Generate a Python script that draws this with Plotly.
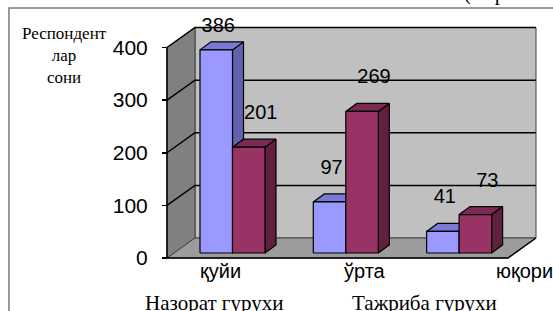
import plotly.graph_objects as go

# ---------------- data ----------------
categories = ["қуйи", "ўрта", "юқори"]
control_group = [386, 97, 41]          # Назорат гурухи
experimental_group = [201, 269, 73]    # Тажриба гурухи
series_names = ["Назорат гурухи", "Тажриба гурухи"]
y_tick_values = [0, 100, 200, 300, 400]
y_title = "Респондент<br>лар<br>сони"

# ---------------- geometry (pixel space -> axis units) ----------------
W, H = 553, 311
CAT0_PX, CAT_STEP_PX = 232.5, 113.3
ZERO_PX, PX_PER_UNIT = 258, 0.52625


def ux(px):
    return px / CAT_STEP_PX


def uy(px):
    return px / PX_PER_UNIT


def px_to_x(px):
    return (px - CAT0_PX) / CAT_STEP_PX


def px_to_y(py):
    return (ZERO_PX - py) / PX_PER_UNIT


x_range = [px_to_x(0), px_to_x(W)]
y_range = [px_to_y(H), px_to_y(0)]

y_max = y_tick_values[-1]
wall_dx, wall_dy = ux(28), uy(20)
floor_left = px_to_x(167)
floor_right = px_to_x(508)

bar_w = ux(32.5)
bar_lift = uy(5)
bar_dx, bar_dy = ux(11), uy(8)

SANS = "Liberation Sans, Arial, sans-serif"
SERIF = "Liberation Serif, Times New Roman, serif"

colors = {
    0: dict(front="#9999FF", top="#7A7AD6", side="#6262B0"),
    1: dict(front="#993366", top="#7D2954", side="#60203E"),
}

fig = go.Figure()


def path(points):
    return "M " + " L ".join(f"{x},{y}" for x, y in points) + " Z"


def open_path(points):
    return "M " + " L ".join(f"{x},{y}" for x, y in points)


shapes = []
# back wall
bl, br = floor_left + wall_dx, floor_right + wall_dx
shapes.append(dict(type="path", xref="x", yref="y", layer="below",
                   path=path([(bl, wall_dy), (br, wall_dy), (br, y_max + wall_dy), (bl, y_max + wall_dy)]),
                   fillcolor="#C0C0C0", line=dict(color="#404040", width=1)))
# left wall
shapes.append(dict(type="path", xref="x", yref="y", layer="below",
                   path=path([(floor_left, 0), (floor_left, y_max), (bl, y_max + wall_dy), (bl, wall_dy)]),
                   fillcolor="#808080", line=dict(color="#404040", width=1)))
# floor
shapes.append(dict(type="path", xref="x", yref="y", layer="below",
                   path=path([(floor_left, 0), (floor_right, 0), (br, wall_dy), (bl, wall_dy)]),
                   fillcolor="#9C9C9C", line=dict(color="#404040", width=1)))
# gridlines
for v in y_tick_values[1:]:
    shapes.append(dict(type="path", xref="x", yref="y", layer="below",
                       path=open_path([(floor_left, v), (bl, v + wall_dy), (br, v + wall_dy)]),
                       line=dict(color="black", width=1.5)))
# front edges
shapes.append(dict(type="path", xref="x", yref="y", layer="below",
                   path=open_path([(floor_left, y_max), (floor_left, 0), (floor_right, 0), (br, wall_dy)]),
                   line=dict(color="black", width=1.5)))
# outer frame
shapes.append(dict(type="path", xref="x", yref="y", layer="above",
                   path=open_path([(px_to_x(9), px_to_y(H + 2)), (px_to_x(9), px_to_y(8)),
                                   (px_to_x(W + 2), px_to_y(8))]),
                   line=dict(color="#7A7A7A", width=1.5)))


def poly(xs, ys, color):
    fig.add_trace(go.Scatter(x=xs + [xs[0]], y=ys + [ys[0]], mode="lines", fill="toself",
                             fillcolor=color, line=dict(color="black", width=1.2),
                             hoverinfo="skip", showlegend=False))


series = [control_group, experimental_group]
for i, cat in enumerate(categories):
    for s, vals in enumerate(series):
        v = vals[i]
        x0 = i - bar_w if s == 0 else i
        x1 = x0 + bar_w
        b, t = bar_lift, bar_lift + v
        c = colors[s]
        poly([x1, x1 + bar_dx, x1 + bar_dx, x1], [b, b + bar_dy, t + bar_dy, t], c["side"])
        poly([x0, x1, x1 + bar_dx, x0 + bar_dx], [t, t, t + bar_dy, t + bar_dy], c["top"])
        poly([x0, x1, x1, x0], [b, b, t, t], c["front"])

# data labels
label_cap = px_to_y(27)
label_shift = [ux(2), ux(12)]
for s, vals in enumerate(series):
    xs, ys = [], []
    for i, v in enumerate(vals):
        xc = i - bar_w / 2 if s == 0 else i + bar_w / 2
        xs.append(xc + label_shift[s])
        ys.append(min(bar_lift + v + uy(33), label_cap))
    fig.add_trace(go.Scatter(x=xs, y=ys, mode="text", text=[str(v) for v in vals],
                             textposition="middle center",
                             textfont=dict(family=SANS, size=20, color="black"),
                             hoverinfo="skip", showlegend=False, cliponaxis=False))

annotations = []
# category labels
cat_label_shift = [ux(-12), ux(19), ux(65)]
for i, cat in enumerate(categories):
    annotations.append(dict(x=i + cat_label_shift[i], y=px_to_y(271), xref="x", yref="y",
                            text=cat, showarrow=False, xanchor="center", yanchor="middle",
                            font=dict(family=SANS, size=20, color="black")))
# legend texts (clipped at bottom, as in the source)
legend_x_px = [214, 424]
for name, lx in zip(series_names, legend_x_px):
    annotations.append(dict(x=lx / W, y=1 - 303 / H, xref="paper", yref="paper",
                            text=name, showarrow=False, xanchor="center", yanchor="middle",
                            font=dict(family=SERIF, size=21, color="black")))
# y title
annotations.append(dict(x=64 / W, y=1 - 56 / H, xref="paper", yref="paper", text=y_title,
                        showarrow=False, xanchor="center", yanchor="middle", align="center",
                        font=dict(family=SERIF, size=17, color="black")))
# cut-off text at top right
annotations.append(dict(x=462 / W, y=1 - 7 / H, xref="paper", yref="paper", text="(жар",
                        showarrow=False, xanchor="left", yanchor="bottom",
                        font=dict(family=SERIF, size=21, color="black")))

fig.update_layout(
    width=W, height=H, autosize=False,
    margin=dict(l=0, r=0, t=0, b=0, pad=0),
    paper_bgcolor="white", plot_bgcolor="white",
    shapes=shapes, annotations=annotations,
    showlegend=False,
    xaxis=dict(range=x_range, visible=False, fixedrange=True),
    yaxis=dict(range=y_range, anchor="free", position=167 / W,
               tickvals=y_tick_values, ticktext=[str(v) for v in y_tick_values],
               ticks="outside", ticklen=5, tickwidth=1.5, tickcolor="black",
               ticklabelstandoff=10,
               tickfont=dict(family=SANS, size=21, color="black"),
               showgrid=False, zeroline=False, showline=False, fixedrange=True),
)

fig.write_html(
    "out.html",
    config={"displayModeBar": False, "staticPlot": True},
    post_script="document.body.style.margin='0';document.body.style.overflow='hidden';",
)
